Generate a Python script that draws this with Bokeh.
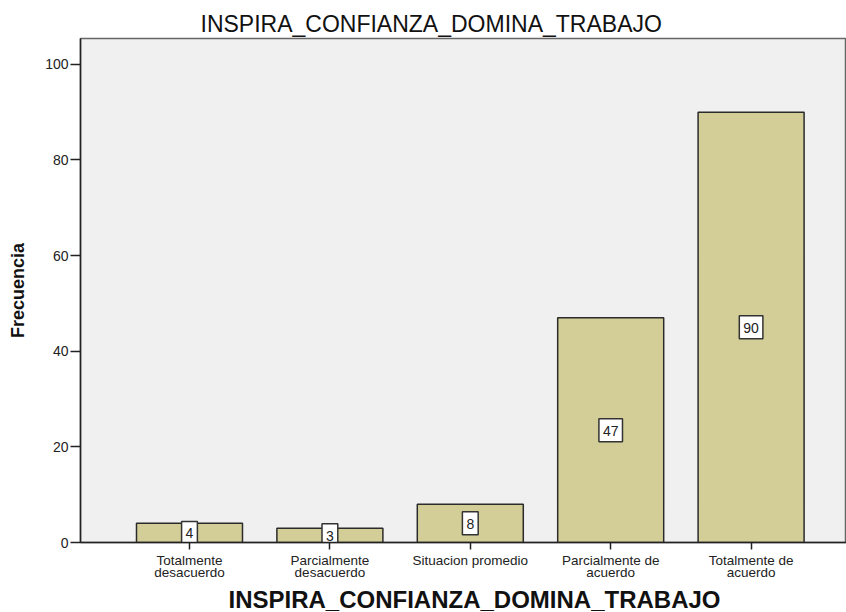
from bokeh.plotting import figure
from bokeh.models import Range1d, FixedTicker, ColumnDataSource, Title
from bokeh.core.properties import value
from bokeh.embed import file_html
from bokeh.resources import INLINE

categories = ["Totalmente\ndesacuerdo", "Parcialmente\ndesacuerdo", "Situacion promedio",
              "Parcialmente de\nacuerdo", "Totalmente de\nacuerdo"]
frequencies = [4, 3, 8, 47, 90]
y_ticks = [0, 20, 40, 60, 80, 100]
title_text = "INSPIRA_CONFIANZA_DOMINA_TRABAJO"
x_title = "INSPIRA_CONFIANZA_DOMINA_TRABAJO"
y_title = "Frecuencia"

FONT = "Liberation Sans"

positions = list(range(1, len(categories) + 1))
source = ColumnDataSource(dict(
    x=positions,
    top=frequencies,
    mid=[v / 2 for v in frequencies],
    label=[str(v) for v in frequencies],
))

p = figure(width=846, height=612, output_backend="svg", toolbar_location=None,
           x_range=Range1d(0.2237, 5.6795), y_range=Range1d(0, 105.4),
           min_border_left=80, min_border_right=0, min_border_top=38, min_border_bottom=70,
           title=title_text)

p.title.align = "left"
p.title.offset = 120
p.title.text_font = FONT
p.title.text_font_size = "23px"
p.title.text_font_style = "normal"
p.title.text_color = "#111111"
p.title.standoff = 4

p.background_fill_color = "#f0f0f0"
p.border_fill_color = "white"
p.outline_line_color = "#666666"
p.outline_line_width = 1.5
p.xgrid.grid_line_color = None
p.ygrid.grid_line_color = None

p.vbar(x="x", top="top", bottom=0, width=0.755, source=source,
       fill_color="#d3ce97", line_color="#2b2b2b", line_width=1.5)

p.text(x="x", y="mid", text="label", source=source,
       text_align="center", text_baseline="middle",
       text_font=value(FONT), text_font_size="14px", text_color="#222222",
       background_fill_color="white", border_line_color="#333333",
       border_line_width=1.5, padding=dict(left=4, right=4, top=7, bottom=6))

yax = p.yaxis[0]
yax.ticker = FixedTicker(ticks=y_ticks)
yax.minor_tick_line_color = None
yax.major_tick_in = 0
yax.major_tick_out = 10
yax.major_tick_line_color = "#222222"
yax.major_tick_line_width = 1.5
yax.axis_line_color = "#222222"
yax.axis_line_width = 1.5
yax.major_label_standoff = 2
yax.major_label_text_font = FONT
yax.major_label_text_font_size = "14px"
yax.major_label_text_color = "#222222"
yax.axis_label = y_title
yax.axis_label_text_font = FONT
yax.axis_label_text_font_size = "18px"
yax.axis_label_text_font_style = "bold"
yax.axis_label_text_color = "#111111"
yax.axis_label_standoff = 14

xax = p.xaxis[0]
xax.ticker = FixedTicker(ticks=positions)
xax.major_label_overrides = {pos: cat for pos, cat in zip(positions, categories)}
xax.minor_tick_line_color = None
xax.major_tick_in = 0
xax.major_tick_out = 7
xax.major_tick_line_color = "#222222"
xax.major_tick_line_width = 1.5
xax.axis_line_color = "#222222"
xax.axis_line_width = 1.5
xax.major_label_standoff = 3
xax.major_label_text_font = FONT
xax.major_label_text_font_size = "13.5px"
xax.major_label_text_line_height = 0.85
xax.major_label_text_color = "#222222"
xax.major_label_orientation = "horizontal"

p.add_layout(Title(text=x_title, align="left", offset=148, text_font=FONT,
                   text_font_size="24px", text_font_style="bold",
                   text_color="#111111", standoff=0), "below")

open("out.html", "w").write(file_html(p, INLINE))
